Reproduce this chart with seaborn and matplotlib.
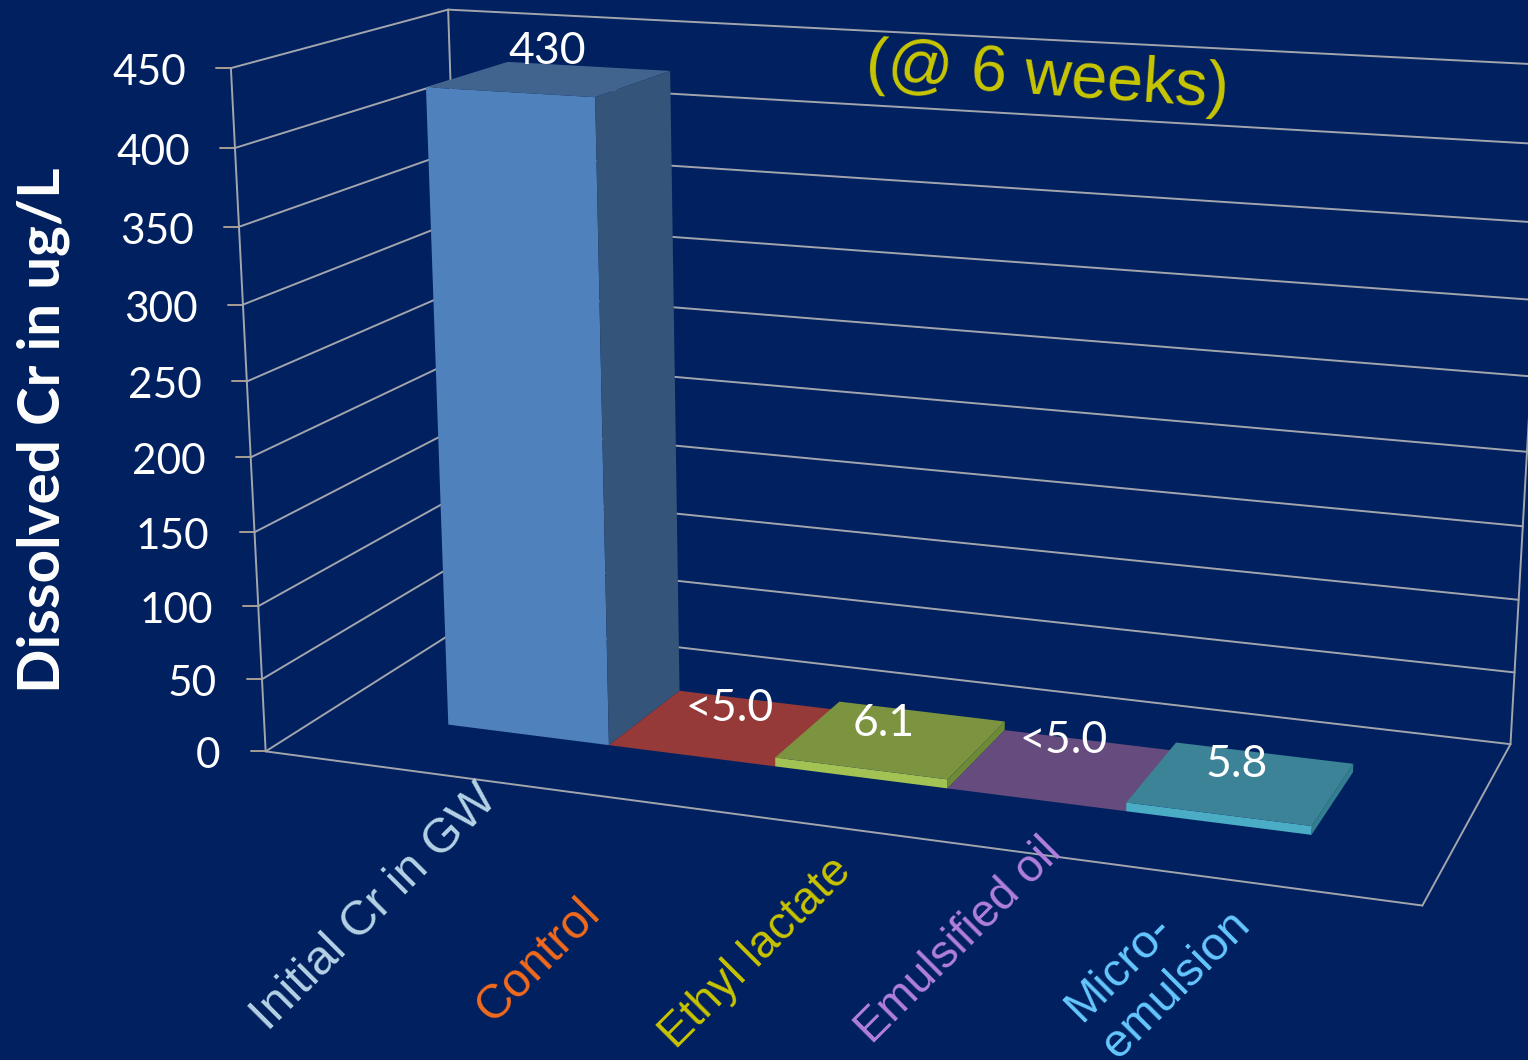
import numpy as np
import matplotlib
matplotlib.use("Agg")
import matplotlib.pyplot as plt
from matplotlib.patches import Polygon
from matplotlib.transforms import Affine2D, Transform
import seaborn as sns

# ---- chart values -------------------------------------------------------
categories = ["Initial Cr in GW", "Control", "Ethyl lactate", "Emulsified oil", "Micro-\nemulsion"]
values = [430, 0, 6.1, 0, 5.8]          # "<5.0" results stay on the floor
value_labels = ["430", "<5.0", "6.1", "<5.0", "5.8"]
y_ticks = [0, 50, 100, 150, 200, 250, 300, 350, 400, 450]

# ---- colours ------------------------------------------------------------
BACKGROUND = "#00205F"
GRID = "#A3A5AD"
TICK = "#A89F94"
front_colors = ["#4F81BD", "#C0504D", "#A2C254", "#8064A2", "#4BACC6"]
top_colors = ["#41648F", "#953A38", "#7C9440", "#664C7E", "#3C8397"]
side_colors = ["#35547A", "#7A2E2C", "#6E8A36", "#523D66", "#327F90"]
label_colors = ["#B5D2E6", "#F26B1D", "#C9C400", "#B27FDD", "#66C8FF"]

WIDTH, HEIGHT = 1528, 1060
U_LEFT, U_RIGHT = -1.25, 5.23            # category-axis extent of the floor
DEPTH_FRONT, DEPTH_BACK = 0.30, 0.70     # bar depth inside the floor

# Camera calibration: box corners (category, value, depth) and their pixels.
camera_world = np.array([
    (U_LEFT, 0, 0), (U_RIGHT, 0, 0), (U_RIGHT, 0, 1), (U_LEFT, 0, 1),
    (U_LEFT, 450, 0), (U_LEFT, 450, 1), (U_RIGHT, 450, 1), (U_RIGHT, 250, 1),
], dtype=float)
camera_pixels = np.array([
    (265, 751), (1423, 905), (1510, 745), (469, 623),
    (231, 69), (448, 9), (1549, 65), (1531, 376),
], dtype=float)


def fit_camera(world, pixels):
    rows, rhs = [], []
    for (u, v, d), (x, y) in zip(world, pixels):
        v = v / 450
        rows.append([u, v, d, 1, 0, 0, 0, 0, -x * u, -x * v, -x * d])
        rows.append([0, 0, 0, 0, u, v, d, 1, -y * u, -y * v, -y * d])
        rhs += [x, y]
    sol = np.linalg.lstsq(np.array(rows), np.array(rhs), rcond=None)[0]
    return np.append(sol, 1.0).reshape(3, 4)


CAMERA = fit_camera(camera_world, camera_pixels)


def project(u, v, d):
    """Map category, value and depth to image pixels (y pointing down)."""
    u, v, d = np.broadcast_arrays(np.asarray(u, float), np.asarray(v, float), np.asarray(d, float))
    world = np.stack([u, v / 450, d, np.ones_like(u)], axis=-1)
    h = world @ CAMERA.T
    return h[..., :2] / h[..., 2:]


class PlaneAtDepth(Transform):
    """Perspective view of the vertical plane at a fixed depth."""
    input_dims = output_dims = 2
    is_separable = False
    has_inverse = False

    def __init__(self, plane_depth):
        super().__init__()
        self.plane_depth = plane_depth

    def transform_non_affine(self, values):
        xy = project(values[:, 0], values[:, 1], self.plane_depth)
        return np.column_stack([xy[:, 0], HEIGHT - xy[:, 1]])


sns.set_style("dark", {"axes.facecolor": BACKGROUND, "figure.facecolor": BACKGROUND})
plt.rcParams["font.family"] = ["Lato", "DejaVu Sans"]

fig = plt.figure(figsize=(WIDTH / 100, HEIGHT / 100), dpi=100, facecolor=BACKGROUND)
ax = fig.add_axes([0, 0, 1, 1])
PIXELS = Affine2D().scale(1, -1).translate(0, HEIGHT)

# The front faces are seaborn's bars, re-projected onto the plane at DEPTH_FRONT.
sns.barplot(x=list(range(len(values))), y=values, hue=list(range(len(values))),
            palette=front_colors, saturation=1, width=1.0, legend=False, ax=ax)
ax.set_axis_off()
ax.autoscale(False)
front_plane = PlaneAtDepth(DEPTH_FRONT)


def wire(p, q, color=GRID, lw=1.4):
    ax.plot([p[0], q[0]], [p[1], q[1]], color=color, lw=lw, transform=PIXELS,
            solid_capstyle="round", zorder=1)


# Walls and floor outline
for value in y_ticks:
    front = project(U_LEFT, value, 0)
    back = project(U_LEFT, value, 1)
    right = project(U_RIGHT, value, 1)
    wire(front, back)
    wire(back, right)
    wire(front - np.array([15, 0]), front, color=TICK)
    ax.text(front[0] - 45, front[1] + 5, str(value), color="white", fontsize=30.5,
            ha="right", va="center", transform=PIXELS)
wire(project(U_LEFT, 0, 0), project(U_LEFT, 450, 0))
wire(project(U_LEFT, 0, 1), project(U_LEFT, 450, 1))
wire(project(U_RIGHT, 0, 1), project(U_RIGHT, 450, 1))
wire(project(U_LEFT, 0, 0), project(U_RIGHT, 0, 0))
wire(project(U_RIGHT, 0, 0), project(U_RIGHT, 0, 1))

# Top and side of each bar, completed from the height of the seaborn rectangle
label_offsets = [(-3, -27), (4, -19), (-8, -16), (0, -29), (-5, -18)]
bars = sorted(ax.patches, key=lambda r: r.get_x())
for i, bar in enumerate(bars):
    x0, x1, h = bar.get_x(), bar.get_x() + bar.get_width(), bar.get_height()
    bar.set_transform(front_plane)
    bar.set_edgecolor("none")
    bar.set_linewidth(0)
    bar.set_zorder(3 + i)
    top = project([x0, x1, x1, x0], h, [DEPTH_FRONT, DEPTH_FRONT, DEPTH_BACK, DEPTH_BACK])
    side = project(x1, [0, h, h, 0], [DEPTH_FRONT, DEPTH_FRONT, DEPTH_BACK, DEPTH_BACK])
    ax.add_patch(Polygon(top, closed=True, fc=top_colors[i], ec="none", transform=PIXELS, zorder=3 + i))
    ax.add_patch(Polygon(side, closed=True, fc=side_colors[i], ec="none", transform=PIXELS, zorder=3 + i))
    anchor = project(x0 + bar.get_width() / 2, h, 0.5)
    ax.text(anchor[0] + label_offsets[i][0], anchor[1] + label_offsets[i][1], value_labels[i],
            color="white", fontsize=32, ha="center", va="center", transform=PIXELS, zorder=20)

# Category names
label_centres = [(375, 908), (538, 961), (756, 953), (959, 941), (1158, 966)]
label_sizes = [35, 34.5, 33, 33, 34]
label_spacing = [1.0, 1.0, 1.0, 1.0, 1.25]
for name, colour, size, gap, (cx, cy) in zip(categories, label_colors, label_sizes,
                                             label_spacing, label_centres):
    ax.text(cx, cy, name, color=colour, fontsize=size, rotation=45, ha="center", va="center",
            multialignment="left", linespacing=gap, family="Liberation Sans",
            transform=PIXELS, zorder=20)

ax.text(43, 430, "Dissolved Cr in ug/L", color="white", fontsize=42, fontweight="bold",
        rotation=90, ha="center", va="center", transform=PIXELS, zorder=20)
ax.text(1047, 78, "(@ 6 weeks)", color="#C9C600", fontsize=46.5, rotation=-4,
        ha="center", va="center", family="Liberation Sans", transform=PIXELS, zorder=20)

fig.savefig("out.png", dpi=100, facecolor=BACKGROUND)
